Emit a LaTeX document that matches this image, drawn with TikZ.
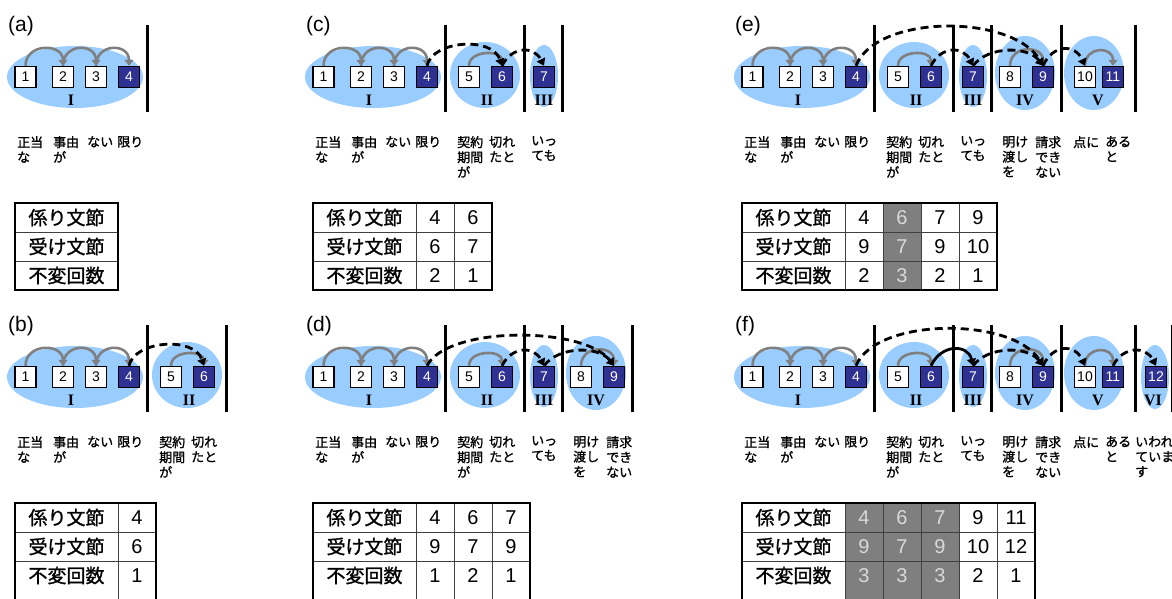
\documentclass[tikz,border=0pt]{standalone}
\usepackage{fontspec}
\setmainfont{Liberation Sans}
\newfontfamily\jafont[FakeBold=1.2]{Noto Sans CJK JP}
\newfontfamily\romfont{Liberation Serif}
\usetikzlibrary{calc}
\usetikzlibrary{shapes}
\usetikzlibrary{arrows.meta}
\definecolor{blobblue}{HTML}{99CCFF}
\definecolor{headblue}{HTML}{2E3192}
\definecolor{linkgray}{HTML}{808080}
\definecolor{cellgray}{HTML}{7F7F7F}
\definecolor{celltext}{HTML}{D9D9D9}
\tikzset{
  bun/.style={draw, line width=1.4pt, fill=white, minimum size=21pt, inner sep=0pt,
    font=\fontsize{14}{14}\selectfont},
  headbun/.style={bun, fill=headblue, text=white},
  blob/.style={ellipse, fill=blobblue, inner sep=0pt},
  rnum/.style={inner sep=0pt, font=\romfont\bfseries\fontsize{16}{16}\selectfont},
  word/.style={anchor=north west, align=left, inner sep=0pt,
    font=\jafont\fontsize{13}{15}\selectfont},
  panelname/.style={anchor=west, inner sep=0pt, font=\fontsize{21}{21}\selectfont},
  fence/.style={line width=3pt},
  link/.style={draw=linkgray, line width=2.6pt, -{Triangle[length=6pt,width=9pt]}},
  jump/.style={line width=2.8pt, dash pattern=on 8pt off 5pt, -{Triangle[length=7pt,width=9pt]}},
  solidjump/.style={line width=2.8pt, -{Triangle[length=7pt,width=9pt]}},
  rowname/.style={inner sep=0pt, font=\jafont\fontsize{19}{19}\selectfont},
  cellnum/.style={inner sep=0pt, font=\fontsize{20}{20}\selectfont},
  gridline/.style={line width=1pt, draw=black!75},
  frameline/.style={line width=2pt},
  opencell/.style={},
  greycell/.style={fill=cellgray, text=celltext},
}
% one sentence: groups, clauses, words and the plain links inside groups
\newcommand\clauses[2]{%
  \foreach \g/\l/\cx/\cy/\rx/\ry/\r/\lx/\bx in {1/4/75/77/68/31/I/71/147,
      2/6/187/75/35/33/II/189/226, 3/7/246/76/14/31/III/246/264,
      4/9/298/73/30/37/IV/298/334, 5/11/367/73/30/37/V/371/408,
      6/12/428/77/14/32/VI/426/445}{%
    \ifnum\l>#2\relax\else
      \node[blob, minimum width=2*\rx*1pt, minimum height=2*\ry*1pt] (#1g\g) at (\cx,-\cy) {};
      \node[rnum] (#1r\g) at (\lx,-100) {\r};
      \draw[fence] (\bx,-25) -- (\bx,-112);
    \fi}%
  \foreach \n/\x/\s in {1/25.5/bun,2/63/bun,3/96/bun,4/129/headbun,5/171/bun,6/204/headbun,
      7/246/headbun,8/283/bun,9/316/headbun,10/358/bun,11/386/headbun,12/429/headbun}{%
    \ifnum\n>#2\relax\else \node[\s] (#1\n) at (\x,-77) {\n}; \fi}%
  \foreach \n/\x/\w in {1/17/{正当\\な},2/53/{事由\\が},3/87/{ない},4/117/{限り},
      5/159/{契約\\期間\\が},6/191/{切れ\\たと},7/233/{いっ\\ても},8/275/{明け\\渡し\\を},
      9/308/{請求\\でき\\ない},10/346/{点に},11/378/{ある\\と},12/408/{いわれ\\ていま\\す}}{%
    \ifnum\n>#2\relax\else \node[word] (#1w\n) at (\x,-136) {\w}; \fi}%
  \foreach \i/\j/\h in {1/2/23,2/3/23,3/4/23,5/6/16,8/9/21,10/11/20}{%
    \ifnum\j>#2\relax\else
      \draw[link] (#1\i.north) .. controls +(0,\h) and +(0,\h) .. (#1\j.north);
    \fi}%
  \node[panelname] (#1tag) at (8,-26) {(#1)};
}
% table of dependencies: prefix, value columns, bottom, cells
\newcommand\deptab[4]{%
  \ifnum#2>0
    \foreach \c/\k/\u/\m/\s in {#4}{%
      \path[\s] (80+38*\c,-203) rectangle (118+38*\c,-#3);
      \node[cellnum,\s] (#1k\c) at (99+38*\c,-217.5) {\k};
      \node[cellnum,\s] (#1u\c) at (99+38*\c,-246.5) {\u};
      \node[cellnum,\s] (#1m\c) at (99+38*\c,-275.5) {\m};
    }%
    \foreach \c in {1,...,#2}{\draw[gridline] (80+38*\c,-203) -- (80+38*\c,-#3);}%
  \fi
  \node[rowname] (#1h1) at (66.5,-217.5) {係り文節};
  \node[rowname] (#1h2) at (66.5,-246.5) {受け文節};
  \node[rowname] (#1h3) at (66.5,-275.5) {不変回数};
  \draw[gridline] (15,-232) -- (118+38*#2,-232) (15,-261) -- (118+38*#2,-261);
  \draw[frameline] (15,-203) rectangle (118+38*#2,-#3);
}

\begin{document}
\begin{tikzpicture}[x=1pt,y=1pt]
\useasboundingbox (0,0) rectangle (1172,-599);
\clip (0,0) rectangle (1172,-599);

% (a)
\begin{scope}
  \clauses{a}{4}
  \deptab{a}{0}{290}{}
\end{scope}

% (b)
\begin{scope}[shift={(0,-300)}]
  \clauses{b}{6}
  \draw[jump] (b4.north) .. controls +(5,25) and +(-10,30) .. (b6.north);
  \deptab{b}{1}{310}{1/4/6/1/opencell}
\end{scope}

% (c)
\begin{scope}[shift={(298,0)}]
  \clauses{c}{7}
  \draw[jump] (c4.north) .. controls +(5,25) and +(-10,30) .. (c6.north);
  \draw[jump] (c6.north) .. controls +(10,20) and +(-10,20) .. (c7.north);
  \deptab{c}{2}{290}{1/4/6/2/opencell,2/6/7/1/opencell}
\end{scope}

% (d)
\begin{scope}[shift={(298,-300)}]
  \clauses{d}{9}
  \draw[jump] (d4.north) .. controls +(20,40) and +(-30,40) .. (d9.north);
  \draw[jump] (d6.north) .. controls +(10,20) and +(-10,20) .. (d7.north);
  \draw[jump] (d7.north) .. controls +(15,20) and +(-15,20) .. (d9.north);
  \deptab{d}{3}{310}{1/4/9/1/opencell,2/6/7/2/opencell,3/7/9/1/opencell}
\end{scope}

% (e)
\begin{scope}[shift={(727,0)}]
  \clauses{e}{11}
  \draw[jump] (e4.north) .. controls +(20,52) and +(-30,52) .. (e9.north);
  \draw[jump] (e6.north) .. controls +(10,20) and +(-10,20) .. (e7.north);
  \draw[jump] (e7.north) .. controls +(15,20) and +(-15,20) .. (e9.north);
  \draw[jump] (e9.north) .. controls +(10,22) and +(-10,22) .. (e10.north);
  \deptab{e}{4}{290}{1/4/9/2/opencell,2/6/7/3/greycell,3/7/9/2/opencell,4/9/10/1/opencell}
\end{scope}

% (f)
\begin{scope}[shift={(727,-300)}]
  \clauses{f}{12}
  \draw[jump] (f4.north) .. controls +(20,49) and +(-30,49) .. (f9.north);
  \draw[solidjump] (f6.north) .. controls +(10,22) and +(-5,22) .. (f7.north);
  \draw[jump] (f7.north) .. controls +(15,20) and +(-15,20) .. (f9.north);
  \draw[jump] (f9.north) .. controls +(10,22) and +(-10,22) .. (f10.north);
  \draw[jump] (f11.north) .. controls +(10,20) and +(-10,20) .. (f12.north);
  \deptab{f}{5}{310}{1/4/9/3/greycell,2/6/7/3/greycell,3/7/9/3/greycell,4/9/10/2/opencell,5/11/12/1/opencell}
\end{scope}
\end{tikzpicture}
\end{document}
